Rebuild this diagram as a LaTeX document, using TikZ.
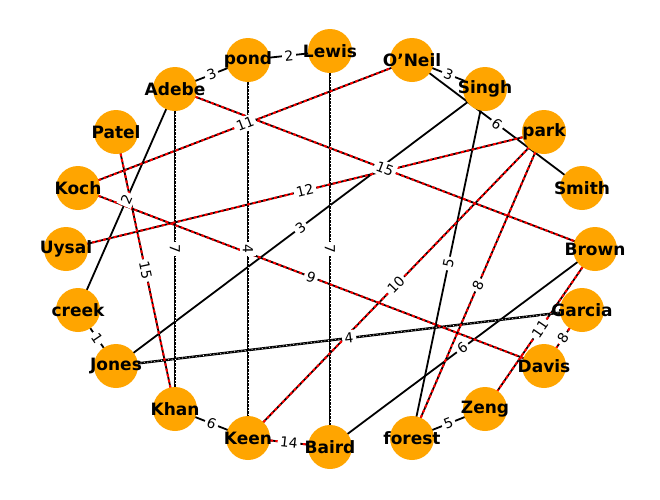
\documentclass[tikz,border=0pt]{standalone}
\usepackage{fontspec}
\setmainfont{DejaVu Sans}
\definecolor{orangeC}{HTML}{FFA500}
\pgfdeclarelayer{edgelayer}
\pgfdeclarelayer{lablayer}
\pgfsetlayers{edgelayer,lablayer,main}
\newcommand\mylab[3]{\begin{pgfonlayer}{lablayer}\path (#1.center) -- node[lbl]{#3} (#2.center);\end{pgfonlayer}}
\newcommand\myredge[3]{\begin{pgfonlayer}{edgelayer}\draw[blk] (#1.center) -- (#2.center);\draw[redov] (#1.center) -- (#2.center);\end{pgfonlayer}\mylab{#1}{#2}{#3}}
\newcommand\mybedge[3]{\begin{pgfonlayer}{edgelayer}\draw[blk] (#1.center) -- (#2.center);\end{pgfonlayer}\mylab{#1}{#2}{#3}}
\newcommand\myvedge[3]{\begin{pgfonlayer}{edgelayer}\draw[blk,line width=2.4pt] (#1.center) -- (#2.center);\draw[whiteov] (#1.center) -- (#2.center);\end{pgfonlayer}\mylab{#1}{#2}{#3}}
\begin{document}
\begin{tikzpicture}[x=1pt,y=-1pt,
  vert/.style={circle,fill=orangeC,minimum size=44pt,inner sep=0pt,font=\bfseries\fontsize{17}{18}\selectfont},
  lbl/.style={midway,sloped,fill=white,inner sep=2.5pt,font=\fontsize{13.9}{15}\selectfont},
  blk/.style={draw=black,line width=1.8pt},
  redov/.style={draw=red,line width=2pt,dash pattern=on 3pt off 2.5pt},
  whiteov/.style={draw=white,line width=0.6pt,dash pattern=on 1pt off 2.5pt}]
\useasboundingbox (0,0) rectangle (660,499);
\node[vert] (Lewis) at (330,51) {\makebox[0pt]{Lewis}};
\node[vert] (pond) at (248,60) {\makebox[0pt]{pond}};
\node[vert] (ONeil) at (412,60) {\makebox[0pt]{O'Neil}};
\node[vert] (Adebe) at (175,89) {\makebox[0pt]{Adebe}};
\node[vert] (Singh) at (485,89) {\makebox[0pt]{Singh}};
\node[vert] (Patel) at (116,132) {\makebox[0pt]{Patel}};
\node[vert] (park) at (544,132) {\makebox[0pt]{park}};
\node[vert] (Koch) at (78,188) {\makebox[0pt]{Koch}};
\node[vert] (Smith) at (582,188) {\makebox[0pt]{Smith}};
\node[vert] (Uysal) at (66,249) {\makebox[0pt]{Uysal}};
\node[vert] (Brown) at (595,249) {\makebox[0pt]{Brown}};
\node[vert] (creek) at (78,310) {\makebox[0pt]{creek}};
\node[vert] (Garcia) at (582,310) {\makebox[0pt]{Garcia}};
\node[vert] (Jones) at (116,366) {\makebox[0pt]{Jones}};
\node[vert] (Davis) at (544,366) {\makebox[0pt]{Davis}};
\node[vert] (Khan) at (175,409) {\makebox[0pt]{Khan}};
\node[vert] (Zeng) at (485,409) {\makebox[0pt]{Zeng}};
\node[vert] (Keen) at (248,438) {\makebox[0pt]{Keen}};
\node[vert] (forest) at (412,438) {\makebox[0pt]{forest}};
\node[vert] (Baird) at (330,447) {\makebox[0pt]{Baird}};
% short edges
\mybedge{Adebe}{pond}{3}
\mybedge{pond}{Lewis}{2}
\mybedge{ONeil}{Singh}{3}
\mybedge{creek}{Jones}{1}
\mybedge{Khan}{Keen}{6}
\myredge{Keen}{Baird}{14}
\mybedge{forest}{Zeng}{5}
\myredge{Garcia}{Davis}{8}
\myredge{Brown}{Zeng}{11}
% long black edges
\mybedge{ONeil}{Smith}{6}
\mybedge{Adebe}{creek}{2}
\mybedge{Singh}{Jones}{3}
\mybedge{Singh}{forest}{5}
\mybedge{Baird}{Brown}{6}
\myvedge{Jones}{Garcia}{4}
% verticals
\myvedge{Adebe}{Khan}{7}
\myvedge{pond}{Keen}{4}
\myvedge{Lewis}{Baird}{7}
% red edges
\myredge{Koch}{ONeil}{11}
\myredge{Adebe}{Brown}{15}
\myredge{park}{Uysal}{12}
\myredge{Patel}{Khan}{15}
\myredge{Koch}{Davis}{9}
\myredge{Keen}{park}{10}
\myredge{park}{forest}{8}
\end{tikzpicture}
\end{document}
